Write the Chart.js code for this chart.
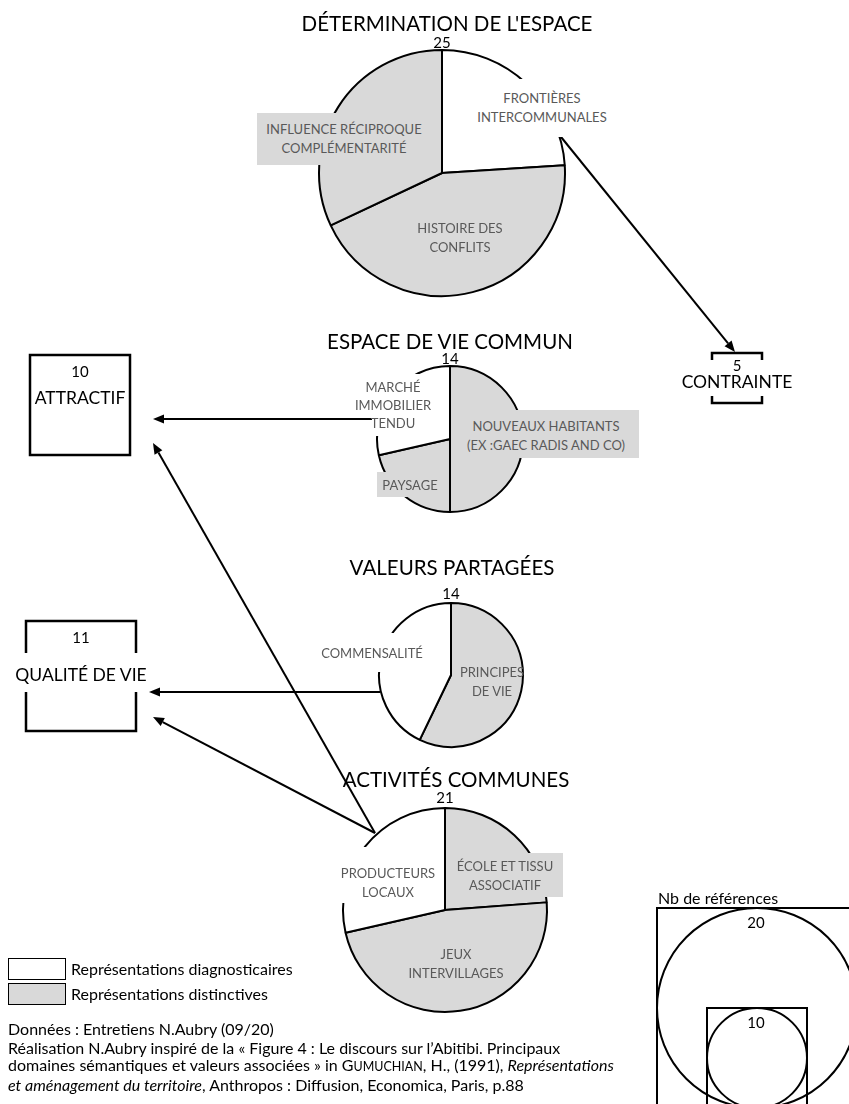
<!DOCTYPE html>
<html lang="fr">
<head>
<meta charset="utf-8">
<title>Domaines sémantiques</title>
<script src="https://cdn.jsdelivr.net/npm/chart.js@4.4.1/dist/chart.umd.min.js"></script>
<style>
  html, body { margin: 0; padding: 0; background: #fff; }
  #page { position: relative; width: 849px; height: 1104px; overflow: hidden; font-family: Lato, "Open Sans", sans-serif; color: #000; }
  #page canvas { position: absolute; }
  .box { position: absolute; z-index: 3; box-sizing: border-box; }
  .txt { position: absolute; z-index: 4; transform: translate(-50%, -50%); text-align: center; white-space: pre; }
  .left { transform: translate(0, -50%); text-align: left; }
  .lbl { color: #595959; font-size: 13px; line-height: 19px; }
  .title { font-size: 20.5px; line-height: 24px; }
  .num { font-size: 15px; line-height: 16px; }
  .out { font-size: 17.5px; line-height: 20px; }
  .foot { font-size: 16px; line-height: 18px; }
</style>
</head>
<body>
<div id="page"></div>
<script>
// --- données ---
const themes = ["DÉTERMINATION DE L'ESPACE", "ESPACE DE VIE COMMUN", "VALEURS PARTAGÉES", "ACTIVITÉS COMMUNES"];
const sliceLabels = [
  ["FRONTIÈRES\nINTERCOMMUNALES", "HISTOIRE DES\nCONFLITS", "INFLUENCE RÉCIPROQUE\nCOMPLÉMENTARITÉ"],
  ["NOUVEAUX HABITANTS\n(EX :GAEC RADIS AND CO)", "PAYSAGE", "MARCHÉ\nIMMOBILIER\nTENDU"],
  ["PRINCIPES\nDE VIE", "COMMENSALITÉ"],
  ["ÉCOLE ET TISSU\nASSOCIATIF", "JEUX\nINTERVILLAGES", "PRODUCTEURS\nLOCAUX"]
];
const sliceValues = [[6, 11, 8], [7, 3, 4], [8, 6], [5, 10, 6]];
const sliceDistinctive = [[false, true, true], [true, true, false], [true, false], [true, true, false]];
const outcomeLabels = ["ATTRACTIF", "QUALITÉ DE VIE", "CONTRAINTE"];
const outcomeValues = [10, 11, 5];
const legendValues = [20, 10];
const kindLabels = ["Représentations diagnosticaires", "Représentations distinctives"];

// --- mise en page ---
const GRAY = "#d9d9d9";
const UNIT = 10; // px par référence (carrés)
const pieLayout = [
  { cx: 442, cy: 173, r: 123, tx: 447, ty: 23, ny: 42 },
  { cx: 450, cy: 439, r: 73, tx: 450, ty: 341, ny: 358 },
  { cx: 451, cy: 675, r: 72, tx: 452, ty: 567, ny: 593 },
  { cx: 445, cy: 910, r: 102, tx: 456, ty: 779, ny: 797 }
];
const sliceLabelLayout = [
  [{ x: 542, y: 108, box: [474, 79, 138, 58, "#fff"] }, { x: 460, y: 238 }, { x: 344, y: 139, box: [257, 113, 176, 52, GRAY] }],
  [{ x: 546, y: 436, box: [453, 410, 186, 48, GRAY] }, { x: 410, y: 485, box: [377, 472, 66, 25, GRAY] }, { x: 393, y: 405, lh: 18, box: [374, 374, 62, 62, "#fff"] }],
  [{ x: 492, y: 682 }, { x: 372, y: 653, box: [314, 633, 116, 39, "#fff"] }],
  [{ x: 505, y: 876, box: [447, 853, 116, 44, GRAY] }, { x: 456, y: 964 }, { x: 388, y: 883, box: [334, 847, 106, 56, "#fff"] }]
];
const outcomeLayout = [
  { x: 30, y: 355, numY: 371, labY: 398 },
  { x: 26, y: 621, numY: 637, labY: 675, gap: [12, 653, 132, 39] },
  { x: 712, y: 353, numY: 365, labY: 382, gap: [682, 360, 110, 36] }
];
const arrows = [
  [557, 132, 735, 352],
  [372, 419, 153, 419],
  [375, 833, 153, 443],
  [380, 692, 149, 692],
  [375, 833, 153, 717]
];
const sizeLegend = { cx: 757, bottom: 1108, titleX: 658, titleY: 898 };

const page = document.getElementById("page");

function addText(cls, text, x, y, style) {
  const d = document.createElement("div");
  d.className = "txt " + cls;
  d.textContent = text;
  d.style.left = x + "px";
  d.style.top = y + "px";
  if (style) Object.assign(d.style, style);
  page.appendChild(d);
  return d;
}
function addBox(x, y, w, h, bg, border) {
  const d = document.createElement("div");
  d.className = "box";
  Object.assign(d.style, { left: x + "px", top: y + "px", width: w + "px", height: h + "px", background: bg });
  if (border) d.style.border = border;
  page.appendChild(d);
}

// --- camemberts ---
sliceValues.forEach(function (vals, i) {
  const L = pieLayout[i];
  const size = 2 * L.r + 8;
  const cv = document.createElement("canvas");
  cv.width = size; cv.height = size;
  Object.assign(cv.style, { left: (L.cx - size / 2) + "px", top: (L.cy - size / 2) + "px", width: size + "px", height: size + "px", zIndex: 1 });
  page.appendChild(cv);
  new Chart(cv, {
    type: "pie",
    data: {
      labels: sliceLabels[i],
      datasets: [{
        data: vals,
        backgroundColor: sliceDistinctive[i].map(function (d) { return d ? GRAY : "#fff"; }),
        borderColor: "#000",
        borderWidth: 2
      }]
    },
    options: {
      responsive: false,
      animation: false,
      events: [],
      radius: L.r,
      layout: { padding: 0 },
      plugins: { legend: { display: false }, tooltip: { enabled: false } }
    }
  });

  const total = vals.reduce(function (a, b) { return a + b; }, 0);
  addText("title", themes[i], L.tx, L.ty);
  addText("num", String(total), L.cx, L.ny);
  sliceLabels[i].forEach(function (lab, j) {
    const s = sliceLabelLayout[i][j];
    if (s.box) addBox(s.box[0], s.box[1], s.box[2], s.box[3], s.box[4]);
    addText("lbl", lab, s.x, s.y, s.lh ? { lineHeight: s.lh + "px" } : null);
  });
});

// --- flèches, carrés et légende des tailles ---
const overlayPlugin = {
  id: "overlay",
  afterDraw: function (chart) {
    const ctx = chart.ctx;
    const px = function (v) { return chart.scales.x.getPixelForValue(v); };
    const py = function (v) { return chart.scales.y.getPixelForValue(v); };
    ctx.save();
    ctx.strokeStyle = "#000";
    ctx.fillStyle = "#000";

    outcomeValues.forEach(function (v, i) {
      const b = outcomeLayout[i];
      const s = v * UNIT;
      ctx.lineWidth = 2.5;
      ctx.strokeRect(px(b.x), py(b.y), px(b.x + s) - px(b.x), py(b.y + s) - py(b.y));
    });

    arrows.forEach(function (a) {
      const x0 = px(a[0]), y0 = py(a[1]), x1 = px(a[2]), y1 = py(a[3]);
      const ang = Math.atan2(y1 - y0, x1 - x0);
      const len = 11, hw = 4.5;
      const bx = x1 - len * Math.cos(ang), by = y1 - len * Math.sin(ang);
      ctx.lineWidth = 2;
      ctx.beginPath(); ctx.moveTo(x0, y0); ctx.lineTo(bx, by); ctx.stroke();
      ctx.beginPath();
      ctx.moveTo(x1, y1);
      ctx.lineTo(bx + hw * Math.sin(ang), by - hw * Math.cos(ang));
      ctx.lineTo(bx - hw * Math.sin(ang), by + hw * Math.cos(ang));
      ctx.closePath(); ctx.fill();
    });

    legendValues.forEach(function (v) {
      const s = v * UNIT;
      const left = sizeLegend.cx - s / 2, top = sizeLegend.bottom - s;
      ctx.lineWidth = 2;
      ctx.strokeRect(px(left), py(top), px(left + s) - px(left), py(top + s) - py(top));
      ctx.beginPath();
      ctx.arc(px(sizeLegend.cx), py(top + s / 2), (px(left + s) - px(left)) / 2, 0, Math.PI * 2);
      ctx.stroke();
    });
    ctx.restore();
  }
};

const ov = document.createElement("canvas");
ov.width = 849; ov.height = 1104;
Object.assign(ov.style, { left: "0px", top: "0px", width: "849px", height: "1104px", zIndex: 2 });
page.appendChild(ov);
new Chart(ov, {
  type: "scatter",
  data: { datasets: [] },
  options: {
    responsive: false,
    animation: false,
    events: [],
    layout: { padding: 0 },
    scales: {
      x: { type: "linear", min: 0, max: 849, display: false },
      y: { type: "linear", min: 0, max: 1104, reverse: true, display: false }
    },
    plugins: { legend: { display: false }, tooltip: { enabled: false } }
  },
  plugins: [overlayPlugin]
});

// textes des carrés
outcomeLabels.forEach(function (lab, i) {
  const b = outcomeLayout[i];
  const cx = b.x + outcomeValues[i] * UNIT / 2;
  if (b.gap) addBox(b.gap[0], b.gap[1], b.gap[2], b.gap[3], "#fff");
  addText("num", String(outcomeValues[i]), cx, b.numY);
  addText("out", lab, cx, b.labY);
});

// légende des tailles
addText("foot left", "Nb de références", sizeLegend.titleX, sizeLegend.titleY);
legendValues.forEach(function (v) {
  addText("num", String(v), sizeLegend.cx - 1, sizeLegend.bottom - v * UNIT + 14);
});

// légende des types
addBox(8, 958, 58, 22, "#fff", "1.5px solid #000");
addBox(8, 983, 58, 22, GRAY, "1.5px solid #000");
kindLabels.forEach(function (lab, i) {
  addText("foot left", lab, 71, 969 + i * 25);
});

// sources
const foot = [
  "Données : Entretiens N.Aubry (09/20)",
  "Réalisation N.Aubry inspiré de la « Figure 4 : Le discours sur l’Abitibi. Principaux",
  "domaines sémantiques et valeurs associées » in G<span style=\"font-size:0.78em\">UMUCHIAN</span>, H., (1991), <i>Représentations</i>",
  "<i>et aménagement du territoire</i>, Anthropos : Diffusion, Economica, Paris, p.88"
];
foot.forEach(function (html, i) {
  const d = addText("foot left", "", 8, 1029 + i * 18.5);
  d.innerHTML = html;
});
</script>
</body>
</html>
